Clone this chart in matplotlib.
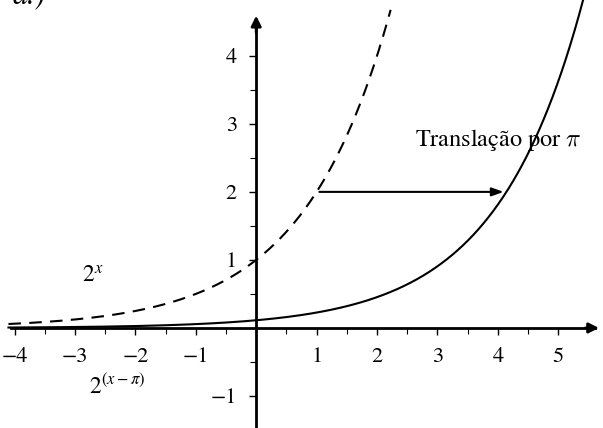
import numpy as np
import matplotlib
matplotlib.use("Agg")
import matplotlib.pyplot as plt
from matplotlib.ticker import FixedLocator

plt.rcParams["font.family"] = "STIXGeneral"
plt.rcParams["mathtext.fontset"] = "stix"

# data
x_start, x_end = -4.1, 5.6
shift = np.pi
arrow_from = (1.0, 2.0)
arrow_to = (1.0 + shift, 2.0)
xticks = [-4, -3, -2, -1, 1, 2, 3, 4, 5]
yticks = [-1, 1, 2, 3, 4]

fig = plt.figure(figsize=(6.03, 4.28), dpi=100, facecolor="white")
ax = fig.add_axes([0, 0, 1, 1])
ax.set_xlim(-4.24, 5.74)
ax.set_ylim(-1.47, 4.82)

x = np.linspace(x_start, x_end, 800)
y1 = 2.0 ** x
y2 = 2.0 ** (x - shift)
m1 = y1 <= 4.7
ax.plot(x[m1], y1[m1], color="black", lw=1.5, ls=(0, (6, 4)))
ax.plot(x, y2, color="black", lw=1.5)

# axes through the origin
for s in ["top", "right"]:
    ax.spines[s].set_visible(False)
ax.spines["left"].set_position(("data", 0))
ax.spines["bottom"].set_position(("data", 0))
ax.spines["left"].set_linewidth(2)
ax.spines["bottom"].set_linewidth(2)
ax.spines["bottom"].set_bounds(-4.05, 5.6)
ax.spines["left"].set_bounds(-1.47, 4.5)
ax.annotate("", xy=(5.72, 0), xytext=(5.4, 0),
            arrowprops=dict(arrowstyle="-|>,head_length=0.6,head_width=0.3", color="black", lw=2))
ax.annotate("", xy=(0, 4.63), xytext=(0, 4.3),
            arrowprops=dict(arrowstyle="-|>,head_length=0.6,head_width=0.3", color="black", lw=2))

ax.xaxis.set_major_locator(FixedLocator(xticks))
ax.yaxis.set_major_locator(FixedLocator(yticks))
ax.xaxis.set_minor_locator(FixedLocator(np.arange(-3.5, 5.0, 1.0)))
ax.yaxis.set_minor_locator(FixedLocator([-0.5, 0.5, 1.5, 2.5, 3.5]))
ax.set_xticklabels([f"{v:d}".replace("-", "\u2212") for v in xticks])
ax.set_yticklabels([f"{v:d}".replace("-", "\u2212") for v in yticks])
ax.tick_params(which="major", direction="out", length=5, width=1, labelsize=16, pad=9)
ax.tick_params(which="minor", direction="out", length=4, width=0.8)

# translation arrow
ax.annotate("", xy=arrow_to, xytext=arrow_from,
            arrowprops=dict(arrowstyle="-|>,head_length=0.7,head_width=0.25", color="black", lw=1.5))

ax.text(4.0, 2.76, "Translação por $\\pi$", fontsize=17.5,
        ha="center", va="center", math_fontfamily="cm")
ax.text(-2.88, 0.66, "$2^{x}$", fontsize=17, ha="left", va="baseline")
ax.text(-2.76, -0.97, "$2^{(x-\\pi)}$", fontsize=17, ha="left", va="baseline")
ax.text(0.02, 0.993, "a.)", fontsize=22, style="italic", transform=ax.transAxes,
        ha="left", va="baseline")

fig.savefig("out.png", dpi=100, facecolor="white")
